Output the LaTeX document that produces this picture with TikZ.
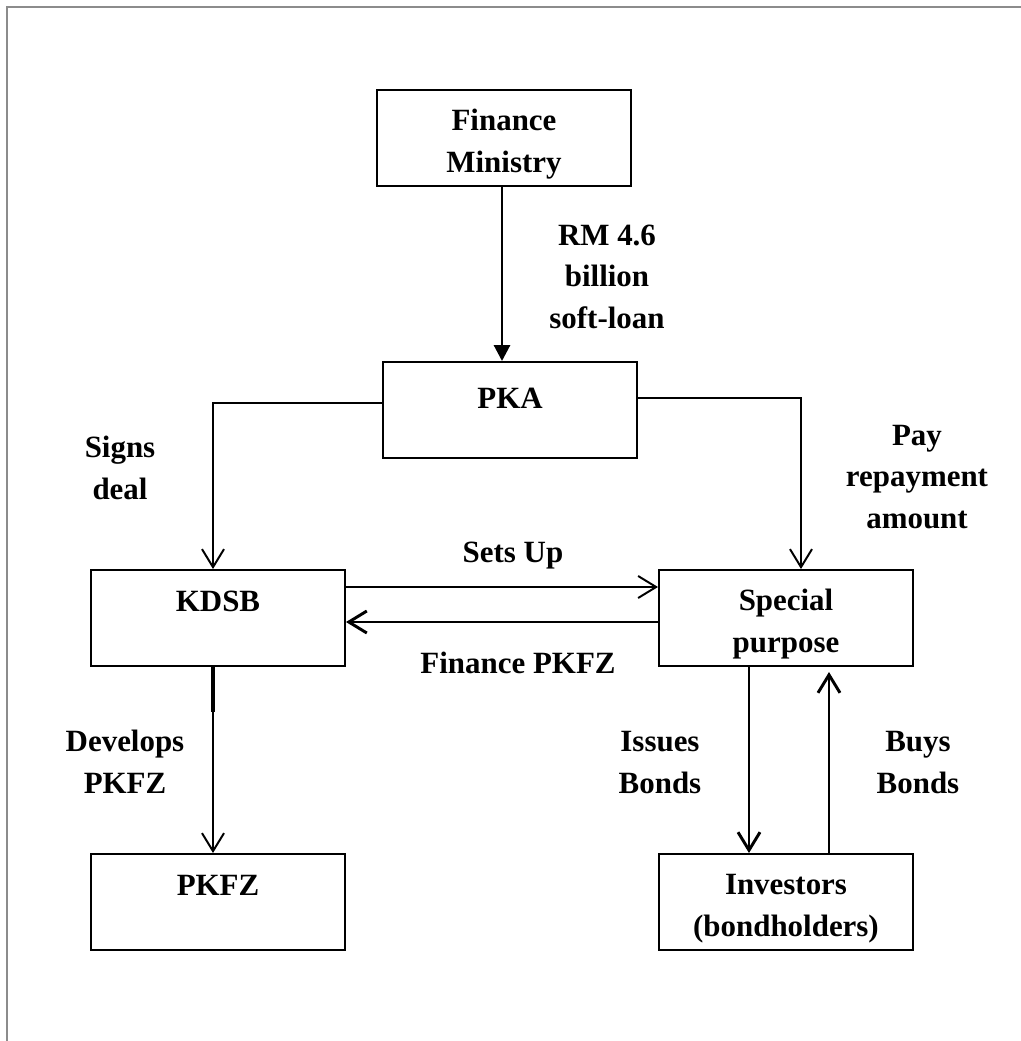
\documentclass[tikz,border=0pt]{standalone}
\usepackage{fontspec}
\setmainfont{Liberation Serif}
\usetikzlibrary{arrows.meta}
\tikzset{
	box/.style={draw,line width=1.4pt,minimum width=6.35cm,minimum height=2.4cm,inner sep=0pt,text height=1.025cm,text depth=1.375cm,align=center},
	twoline/.style={text height=2.05cm,text depth=0.35cm},
	lbl/.style={anchor=base,align=center,inner sep=0pt},
	arr/.style={line width=1.4pt,-{Straight Barb[length=0.45cm,width=0.55cm]}},
	heavy/.style={line width=2.1pt,-{Straight Barb[length=0.45cm,width=0.55cm]}},
}

\begin{document}
\begin{tikzpicture}[every node/.style={font=\bfseries\fontsize{22}{29.2}\selectfont}]
	\useasboundingbox (0,0) rectangle (25.525,-26.025);
	\draw[black!45,line width=0.05cm] (0.175,-26.025) -- (0.175,-0.175) -- (25.525,-0.175);
	%
	\node[box,twoline] (fin) at (12.6,-3.45) {Finance\\Ministry};
	\node[box,text height=1.15cm,text depth=1.25cm] (pka) at (12.75,-10.25) {PKA};
	\node[box] (kdsb) at (5.45,-15.45) {KDSB};
	\node[box,twoline] (spv) at (19.65,-15.45) {Special\\purpose};
	\node[box] (pkfz) at (5.45,-22.55) {PKFZ};
	\node[box,twoline] (inv) at (19.65,-22.55) {Investors\\(bondholders)};
	%
	\node[lbl] (loan) at (15.175,-8.2) {RM 4.6\\billion\\soft-loan};
	\node[lbl] (signs) at (3.0,-12.475) {Signs\\deal};
	\node[lbl] (pay) at (22.925,-13.2) {Pay\\repayment\\amount};
	\node[lbl] (setsup) at (12.825,-14.05) {Sets Up};
	\node[lbl] (finpkfz) at (12.95,-16.825) {Finance PKFZ};
	\node[lbl] (develops) at (3.125,-19.825) {Develops\\PKFZ};
	\node[lbl] (issues) at (16.5,-19.825) {Issues\\Bonds};
	\node[lbl] (buys) at (22.95,-19.825) {Buys\\Bonds};
	%
	\draw [line width=2.1pt,-{Triangle[length=0.4cm,width=0.4cm]}] ([xshift=-0.05cm]fin.south) -- ([xshift=-0.05cm]fin.south |- pka.north);
	\draw [arr] ([yshift=0.175cm]pka.west) -| ([xshift=-0.125cm]kdsb.north);
	\draw [arr] ([yshift=0.3cm]pka.east) -| ([xshift=0.375cm]spv.north);
	\draw [arr] ([yshift=0.775cm]kdsb.east) -- ([yshift=0.775cm]spv.west);
	\draw [heavy] ([yshift=-0.1cm]spv.west) -- ([yshift=-0.1cm]kdsb.east);
	\draw [line width=2.8pt] ([xshift=-0.125cm]kdsb.south) -- ++(0,-1.125);
	\draw [arr] ([xshift=-0.125cm]kdsb.south) -- ([xshift=-0.125cm]kdsb.south |- pkfz.north);
	\draw [heavy] ([xshift=-0.925cm]spv.south) -- ([xshift=-0.925cm]spv.south |- inv.north);
	\draw [heavy,shorten >=0.125cm] ([xshift=1.075cm]inv.north) -- ([xshift=1.075cm]inv.north |- spv.south);
\end{tikzpicture}
\end{document}
